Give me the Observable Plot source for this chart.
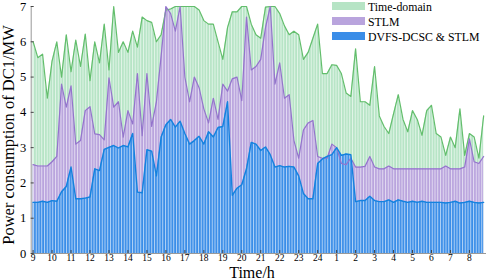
<!DOCTYPE html>
<html><head><meta charset="utf-8">
<script src="https://cdn.jsdelivr.net/npm/d3@7"></script>
<script src="https://cdn.jsdelivr.net/npm/@observablehq/plot@0.6"></script>
<style>
html,body{margin:0;padding:0;background:#fff;}
#chart{position:relative;width:491px;height:280px;overflow:hidden;}
</style></head><body><div id="chart"></div>
<script>
// Hour tick labels (x axis runs from 9:00 to 8:00 the next day)
const hourLabels = [9,10,11,12,13,14,15,16,17,18,19,20,21,22,23,24,1,2,3,4,5,6,7,8];
// 15-minute samples, starting at 9:00
const tdm = [
  6.00,5.55,5.65,4.40,5.45,6.00,5.00,6.20,5.15,6.05,5.30,6.22,
  4.90,6.00,5.40,6.50,5.20,7.00,5.70,6.00,5.70,6.30,5.85,6.70,
  6.60,6.55,6.00,6.20,6.90,6.93,7.00,7.00,7.00,7.00,7.00,6.90,
  6.60,6.50,6.50,6.00,5.50,6.40,6.85,6.85,7.00,7.00,6.50,6.20,
  6.10,6.98,7.00,7.00,6.80,6.45,6.20,6.30,6.20,5.50,5.70,6.10,
  6.50,5.10,5.10,5.35,5.33,5.10,4.55,4.45,5.80,4.30,4.30,4.20,
  5.30,3.90,3.60,3.40,3.96,4.50,3.80,3.45,4.05,3.80,3.35,4.05,
  4.20,3.40,3.30,2.78,3.30,3.00,4.10,2.78,3.40,3.30,2.70,3.90
];
const stlm = [
  2.52,2.48,2.48,2.48,2.60,2.75,4.80,4.15,4.75,3.10,3.20,4.05,
  4.16,3.39,3.37,3.22,4.98,4.15,4.30,3.30,4.05,3.67,5.10,3.34,
  5.10,3.60,4.30,5.60,7.00,6.80,6.30,7.00,5.00,4.30,5.00,4.70,
  4.10,3.70,4.40,3.80,4.80,4.60,4.95,5.00,4.33,6.70,5.20,5.30,
  5.50,6.40,7.00,4.80,5.40,4.40,4.50,3.20,2.70,3.50,3.70,3.77,
  2.75,2.70,2.70,3.10,3.00,2.55,2.52,2.70,2.45,2.45,2.47,2.75,
  2.45,2.40,2.40,2.48,2.40,2.40,2.40,2.40,2.40,2.40,2.40,2.40,
  2.40,2.40,2.40,2.48,2.40,2.40,2.40,2.45,3.25,2.60,2.55,2.75
];
const dvfs = [
  1.45,1.45,1.48,1.45,1.50,1.48,1.75,1.90,2.45,1.55,1.55,1.57,
  1.60,2.40,2.35,2.95,3.01,3.06,2.99,3.06,3.02,3.40,1.74,1.72,
  2.94,2.90,2.20,3.30,3.65,3.80,3.58,3.75,3.40,3.10,3.20,3.32,
  3.10,3.45,3.30,3.57,3.60,4.30,1.65,1.85,1.95,2.40,3.15,3.10,
  2.92,3.02,2.80,2.45,2.49,2.45,2.47,2.45,2.20,1.70,1.55,1.55,
  2.55,2.68,2.75,2.80,3.00,2.78,2.82,2.80,1.47,1.50,1.50,1.62,
  1.50,1.47,1.47,1.52,1.45,1.52,1.48,1.45,1.48,1.45,1.48,1.45,
  1.45,1.45,1.45,1.43,1.45,1.48,1.43,1.45,1.48,1.45,1.43,1.45
];
const seriesNames = ["Time-domain","STLM","DVFS-DCSC & STLM"];
const yTicks = [0,1,2,3,4,5,6,7];

const fills = ["#b6e4c5","#b9a4dd","#3a8de8"];
const strokes = ["#63be6c","#9474cc","#1482de"];
const font = "'Liberation Serif', 'Times New Roman', serif";

const data = dvfs.map((v, i) => ({t: i * 0.25, g: tdm[i], p: stlm[i], b: v}));
const xTicks = hourLabels.map((_, i) => i);

const plot = Plot.plot({
  width: 491, height: 280,
  marginLeft: 30.7, marginRight: 5, marginTop: 6, marginBottom: 27,
  style: {fontFamily: font, background: "white", color: "#000", overflow: "visible"},
  x: {domain: [-0.1, 23.9]},
  y: {domain: [0, 7]},
  marks: [
    Plot.areaY(data, {x: "t", y: "g", fill: fills[0]}),
    Plot.areaY(data, {x: "t", y: "p", fill: fills[1]}),
    Plot.areaY(data, {x: "t", y: "b", fill: fills[2]}),
    Plot.areaY(data, {x: "t", y: "g", fill: "url(#stripes)"}),
    Plot.lineY(data, {x: "t", y: "g", stroke: strokes[0], strokeWidth: 1.2}),
    Plot.lineY(data, {x: "t", y: "p", stroke: strokes[1], strokeWidth: 1.2}),
    Plot.lineY(data, {x: "t", y: "b", stroke: strokes[2], strokeWidth: 1.4}),
    Plot.ruleY([0], {stroke: "#999"}),
    Plot.ruleX([-0.1], {stroke: "#999"}),
    Plot.axisX(xTicks, {tickFormat: i => hourLabels[i], tickSize: -3, tickPadding: 4, fontSize: 9.5, stroke: "#444", label: null}),
    Plot.axisY(yTicks, {tickSize: -3, tickPadding: 8, fontSize: 12.5, stroke: "#444", label: null})
  ]
});

const svg = d3.select(plot);
const defs = svg.insert("defs", ":first-child");
const pat = defs.append("pattern").attr("id", "stripes")
  .attr("patternUnits", "userSpaceOnUse").attr("width", 2.75).attr("height", 8);
pat.append("rect").attr("x", 0).attr("y", 0).attr("width", 1).attr("height", 8)
  .attr("fill", "#fff").attr("fill-opacity", 0.6);

// axis titles
svg.append("text").attr("transform", "translate(13.5,135) rotate(-90)")
  .attr("text-anchor", "middle").attr("font-size", 16.5).attr("font-family", font)
  .attr("fill", "#000").text("Power consumption of DC1/MW");
svg.append("text").attr("x", 252).attr("y", 278)
  .attr("text-anchor", "middle").attr("font-size", 16).attr("font-family", font)
  .attr("fill", "#000").text("Time/h");

// legend
const lg = svg.append("g").attr("text-anchor", "start");
seriesNames.forEach((name, k) => {
  lg.append("rect").attr("x", 332).attr("y", 2 + 15 * k).attr("width", 33).attr("height", 8).attr("fill", fills[k]);
  lg.append("text").attr("x", 368).attr("y", 10.5 + 15 * k).attr("font-size", 11.8)
    .attr("text-anchor", "start").attr("font-family", font).attr("fill", "#000").text(name);
});

document.getElementById("chart").appendChild(plot);
</script></body></html>
